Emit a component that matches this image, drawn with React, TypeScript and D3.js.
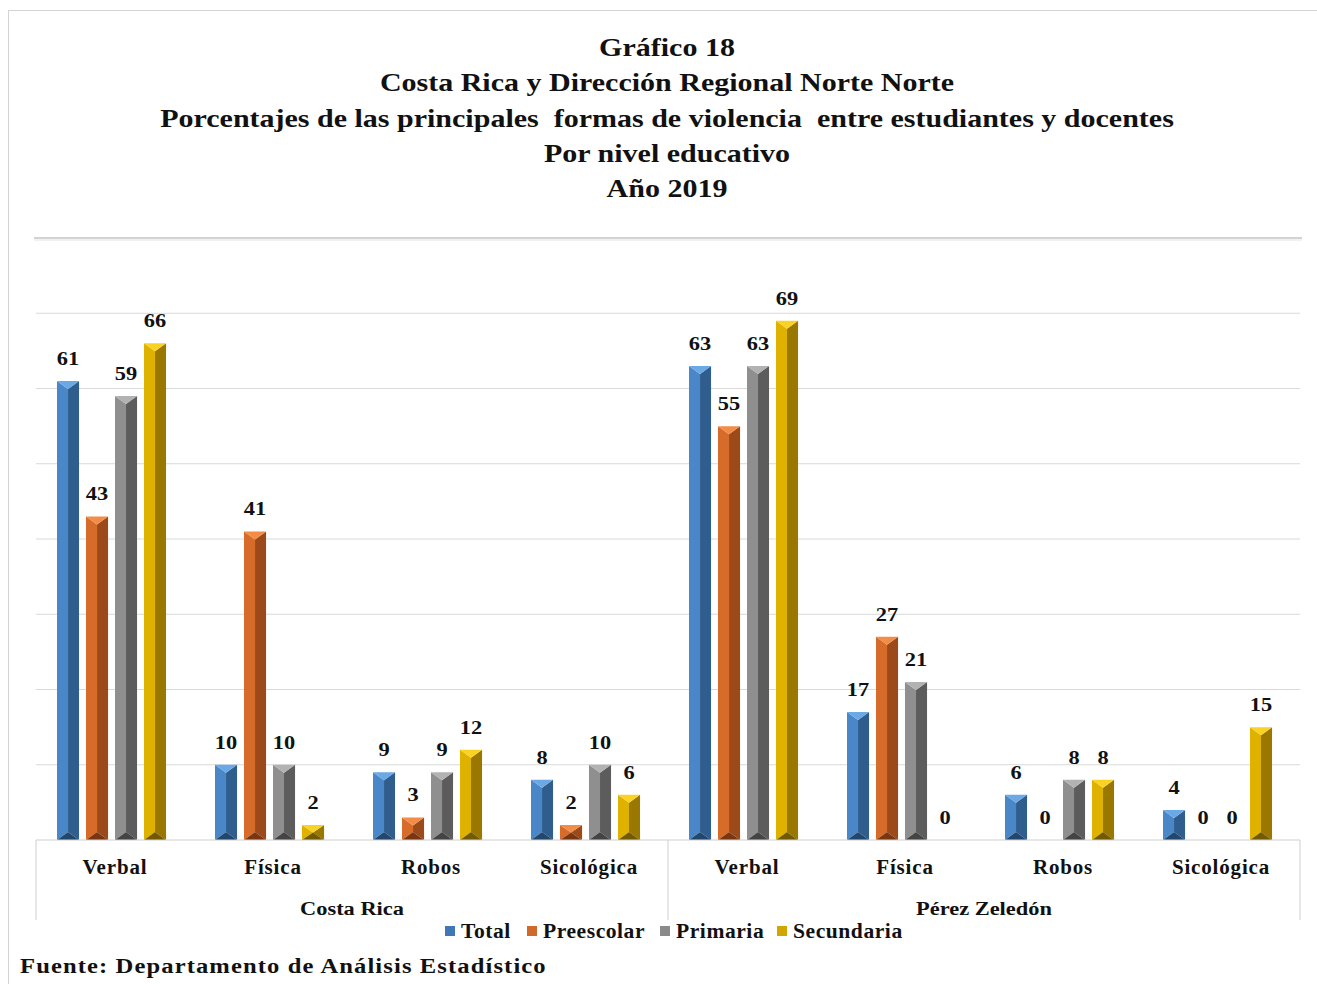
import React from "react";
import * as d3 from "d3";

const titleLines = [
  "Gráfico 18",
  "Costa Rica y Dirección Regional Norte Norte",
  "Porcentajes de las principales  formas de violencia  entre estudiantes y docentes",
  "Por nivel educativo",
  "Año 2019",
];
const groups = ["Costa Rica", "Pérez Zeledón"];
const categories = ["Verbal", "Física", "Robos", "Sicológica"];
const series = ["Total", "Preescolar", "Primaria", "Secundaria"];
// values[group][category][series]
const costaRicaValues = [
  [61, 43, 59, 66],
  [10, 41, 10, 2],
  [9, 3, 9, 12],
  [8, 2, 10, 6],
];
const perezZeledonValues = [
  [63, 55, 63, 69],
  [17, 27, 21, 0],
  [6, 0, 8, 8],
  [4, 0, 0, 15],
];
const yTicks = [10, 20, 30, 40, 50, 60, 70, 80];
const source = "Fuente: Departamento de Análisis Estadístico";

const palette: Record<string, { top: string; left: string; right: string; bottom: string; sq: string }> = {
  Total: { top: "#6aa8e6", left: "#4a87c8", right: "#2f5e8e", bottom: "#22476d", sq: "#3f78b4" },
  Preescolar: { top: "#f28c46", left: "#d66b2a", right: "#9c4a1a", bottom: "#7a3610", sq: "#d06a2c" },
  Primaria: { top: "#b2b2b2", left: "#8f8f8f", right: "#5c5c5c", bottom: "#444444", sq: "#8a8a8a" },
  Secundaria: { top: "#fad224", left: "#e0b200", right: "#9a7800", bottom: "#735900", sq: "#d2a600" },
};

const SERIF = "'Liberation Serif', 'Times New Roman', serif";

type STProps = {
  x: number;
  y: number;
  sx?: number;
  size: number;
  anchor?: "start" | "middle" | "end";
  ls?: number;
  children: React.ReactNode;
};
function SText({ x, y, sx = 1.2, size, anchor = "middle", ls = 0, children }: STProps) {
  return (
    <text
      transform={`translate(${x},${y}) scale(${sx},1)`}
      textAnchor={anchor}
      fontFamily={SERIF}
      fontWeight="bold"
      fontSize={size}
      letterSpacing={ls}
      fill="#111"
      style={{ whiteSpace: "pre" }}
    >
      {children}
    </text>
  );
}

export default function App() {
  const W = 1317, H = 984;
  const left = 36, right = 1300, baseY = 840, topY = 238;
  const y = d3.scaleLinear().domain([0, 80]).range([baseY, topY]);
  const xGroup = d3.scaleBand<string>().domain(groups).range([left, right]).padding(0);
  const xCat = d3.scaleBand<string>().domain(categories).range([0, xGroup.bandwidth()]).padding(0);
  const xSer = d3
    .scaleBand<string>()
    .domain(series)
    .range([0.133 * xCat.bandwidth(), 0.823 * xCat.bandwidth()])
    .paddingInner(0.24)
    .paddingOuter(0);
  const allValues = [costaRicaValues, perezZeledonValues];

  const bars: React.ReactNode[] = [];
  const labels: React.ReactNode[] = [];
  groups.forEach((g, gi) => {
    categories.forEach((c, ci) => {
      series.forEach((s, si) => {
        const v = allValues[gi][ci][si];
        const x0 = (xGroup(g) as number) + (xCat(c) as number) + (xSer(s) as number);
        const w = xSer.bandwidth();
        const x1 = x0 + w;
        const xc = x0 + w / 2;
        const y0 = y(v);
        const yb = y(0);
        const h = yb - y0;
        const col = palette[s];
        const key = `${gi}-${ci}-${si}`;
        if (h > 0) {
          const d = Math.min(8, h / 2);
          bars.push(
            <g key={key}>
              <polygon points={`${x0},${y0} ${xc},${y0 + d} ${xc},${yb - d} ${x0},${yb}`} fill={col.left} />
              <polygon points={`${x1},${y0} ${xc},${y0 + d} ${xc},${yb - d} ${x1},${yb}`} fill={col.right} />
              <polygon points={`${x0},${y0} ${x1},${y0} ${xc},${y0 + d}`} fill={col.top} />
              <polygon points={`${x0},${yb} ${x1},${yb} ${xc},${yb - d}`} fill={col.bottom} />
            </g>
          );
        }
        labels.push(
          <SText key={"l" + key} x={xc} y={y0 - 16} size={19} sx={1.18}>
            {v}
          </SText>
        );
      });
    });
  });

  const legendItems = [
    { s: "Total", x: 445 },
    { s: "Preescolar", x: 527 },
    { s: "Primaria", x: 660 },
    { s: "Secundaria", x: 777 },
  ];

  return (
    <svg width={W} height={H} style={{ position: "absolute", left: 0, top: 0, background: "#fff" }}>
      <rect x={0} y={0} width={W} height={H} fill="#fff" />
      <rect x={8.5} y={10.5} width={W + 20} height={H + 20} fill="none" stroke="#d4d4d4" />
      {titleLines.map((t, i) => (
        <SText key={i} x={667} y={56 + i * 35.3} size={25} sx={1.2}>
          {t}
        </SText>
      ))}
      {yTicks.map((t) => (
        <line
          key={t}
          x1={t === 80 ? 34 : left}
          x2={t === 80 ? 1302 : right}
          y1={y(t)}
          y2={y(t)}
          stroke={t === 80 ? "#c4c4c4" : "#d9d9d9"}
          strokeWidth={t === 80 ? 1.5 : 1}
        />
      ))}
      <line x1={34} x2={1302} y1={y(80) + 2} y2={y(80) + 2} stroke="#ececec" strokeWidth={1.5} />
      {bars}
      {labels}
      <line x1={left} x2={right} y1={baseY} y2={baseY} stroke="#cfcfcf" />
      {[left, xGroup(groups[1]) as number, right].map((xx, i) => (
        <line key={i} x1={xx} x2={xx} y1={baseY} y2={920} stroke="#cfcfcf" />
      ))}
      {groups.map((g) =>
        categories.map((c) => (
          <SText
            key={g + c}
            x={(xGroup(g) as number) + (xCat(c) as number) + xCat.bandwidth() / 2}
            y={874}
            size={20}
            sx={1.05}
            ls={0.8}
          >
            {c}
          </SText>
        ))
      )}
      {groups.map((g) => (
        <SText key={g} x={(xGroup(g) as number) + xGroup.bandwidth() / 2} y={915} size={19} sx={1.18}>
          {g}
        </SText>
      ))}
      {legendItems.map((it) => (
        <g key={it.s}>
          <rect x={it.x} y={926} width={10} height={10} fill={palette[it.s].sq} />
          <SText x={it.x + 16} y={938} size={20} sx={1.08} ls={0.5} anchor="start">
            {it.s}
          </SText>
        </g>
      ))}
      <SText x={20} y={973} size={20} sx={1.23} ls={0.9} anchor="start">
        {source}
      </SText>
    </svg>
  );
}
